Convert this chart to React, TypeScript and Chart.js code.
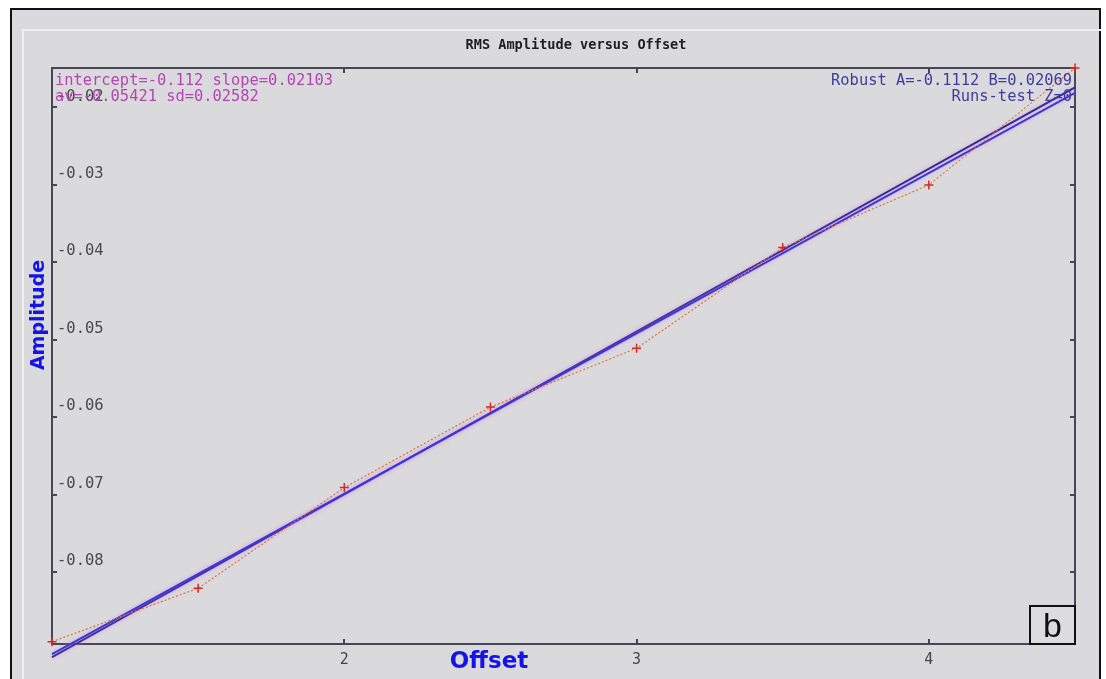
import React, { useEffect, useRef } from "react";
import { Chart, registerables } from "chart.js";

Chart.register(...registerables);

// ---- data ----
const offsets = [1, 1.5, 2, 2.5, 3, 3.5, 4, 4.5];
const amplitudes = [-0.089, -0.0821, -0.0691, -0.0587, -0.0511, -0.0381, -0.03, -0.0149];
const fitX = [1, 4.5];
const lsFitY = [-0.091, -0.0174];
const robustFitY = [-0.0906, -0.0181];
const xTicks = [2, 3, 4];
const yTicks = [-0.08, -0.07, -0.06, -0.05, -0.04, -0.03, -0.02];
const titleText = "RMS Amplitude versus Offset";
const statsLeft = ["intercept=-0.112 slope=0.02103", "av=-0.05421 sd=0.02582"];
const statsRight = ["Robust A=-0.1112 B=0.02069", "Runs-test Z=0"];
const xTitle = "Offset";
const yTitle = "Amplitude";
const panelLabel = "b";

const AXIS = "#46465a";
const MONO = "'DejaVu Sans Mono', 'Liberation Mono', monospace";

const haloPlugin = {
  id: "halo",
  beforeDatasetDraw(chart: any, args: any) {
    if (args.index === 0) return;
    const ctx = chart.ctx as CanvasRenderingContext2D;
    ctx.save();
    ctx.shadowColor = "rgba(215,120,240,0.6)";
    ctx.shadowBlur = 4;
  },
  afterDatasetDraw(chart: any, args: any) {
    if (args.index === 0) return;
    chart.ctx.restore();
  },
};

const overlayPlugin = {
  id: "overlay",
  afterDraw(chart: any) {
    const ctx = chart.ctx as CanvasRenderingContext2D;
    const xs = chart.scales.x;
    const ys = chart.scales.y;
    const { left, right, top, bottom } = chart.chartArea;
    ctx.save();
    // inward tick marks
    ctx.strokeStyle = AXIS;
    ctx.lineWidth = 2;
    const seg = (a: number, b: number, c: number, d: number) => {
      ctx.beginPath();
      ctx.moveTo(a, b);
      ctx.lineTo(c, d);
      ctx.stroke();
    };
    for (const v of yTicks) {
      const py = Math.round(ys.getPixelForValue(v));
      seg(left, py, left + 5, py);
      seg(right - 5, py, right, py);
    }
    for (const v of xTicks) {
      const px = Math.round(xs.getPixelForValue(v));
      seg(px, bottom, px, bottom - 5);
      seg(px, top, px, top + 5);
    }
    // title
    ctx.fillStyle = "#1e1e1e";
    ctx.font = `bold 13.6px ${MONO}`;
    ctx.textAlign = "center";
    ctx.textBaseline = "middle";
    ctx.fillText(titleText, 576, 45);
    // stats
    ctx.font = `15.4px ${MONO}`;
    ctx.textAlign = "left";
    ctx.fillStyle = "#b444b4";
    statsLeft.forEach((t, i) => ctx.fillText(t, left + 3, 81 + i * 16));
    ctx.textAlign = "right";
    ctx.fillStyle = "#3c3c9c";
    statsRight.forEach((t, i) => ctx.fillText(t, right - 3, 81 + i * 16));
    // axis titles
    ctx.fillStyle = "#1414e6";
    ctx.font = "bold 23px 'DejaVu Sans', Verdana, sans-serif";
    ctx.textAlign = "center";
    ctx.fillText(xTitle, 489, 662);
    ctx.save();
    ctx.translate(39, 315);
    ctx.rotate(-Math.PI / 2);
    ctx.font = "bold 19px 'DejaVu Sans', Verdana, sans-serif";
    ctx.fillText(yTitle, 0, 0);
    ctx.restore();
    // panel label box
    const bw = 45;
    const bh = 38;
    ctx.fillStyle = "#dcdcde";
    ctx.fillRect(right - bw, bottom - bh, bw, bh);
    ctx.strokeStyle = "#111";
    ctx.lineWidth = 2;
    ctx.strokeRect(right - bw, bottom - bh, bw, bh);
    ctx.fillStyle = "#111";
    ctx.font = "34px 'Liberation Sans', Arial, sans-serif";
    ctx.textAlign = "center";
    ctx.textBaseline = "alphabetic";
    ctx.fillText(panelLabel, right - bw / 2, bottom - 7);
    ctx.restore();
  },
};

export default function App() {
  const ref = useRef<HTMLCanvasElement | null>(null);

  useEffect(() => {
    if (!ref.current) return;
    const chart = new Chart(ref.current, {
      type: "scatter",
      data: {
        datasets: [
          {
            label: "RMS amplitude",
            data: offsets.map((x, i) => ({ x, y: amplitudes[i] })),
            showLine: true,
            borderColor: "#e2703c",
            borderWidth: 1.2,
            borderDash: [2, 2],
            pointStyle: "cross",
            pointRadius: 4.5,
            pointBorderColor: "#d8262a",
            pointBorderWidth: 1.5,
            clip: false,
            order: 0,
          } as any,
          {
            label: "Least squares",
            data: fitX.map((x, i) => ({ x, y: lsFitY[i] })),
            showLine: true,
            borderColor: "#2e2a8c",
            borderWidth: 2,
            pointRadius: 0,
            clip: false,
            order: 2,
          } as any,
          {
            label: "Robust",
            data: fitX.map((x, i) => ({ x, y: robustFitY[i] })),
            showLine: true,
            borderColor: "#3838d8",
            borderWidth: 2,
            pointRadius: 0,
            clip: false,
            order: 1,
          } as any,
        ],
      },
      options: {
        animation: false,
        responsive: false,
        maintainAspectRatio: false,
        layout: { padding: { left: 42, top: 68, right: 31, bottom: 3 } },
        plugins: {
          legend: { display: false },
          tooltip: { enabled: false },
          title: { display: false },
        },
        scales: {
          x: {
            type: "linear",
            position: "bottom",
            min: 1,
            max: 4.5,
            afterBuildTicks: (s: any) => {
              s.ticks = xTicks.map((v) => ({ value: v }));
            },
            ticks: {
              padding: 7,
              color: "#444",
              font: { family: MONO, size: 15 },
              callback: (v: any) => String(v),
            },
            grid: { display: false, drawTicks: false },
            border: { display: true, color: AXIS, width: 2 },
          },
          y: {
            type: "linear",
            position: "left",
            min: -0.0893,
            max: -0.0149,
            afterBuildTicks: (s: any) => {
              s.ticks = yTicks.map((v) => ({ value: v }));
            },
            ticks: {
              mirror: true,
              padding: 5,
              labelOffset: -11,
              color: "#4a4a4a",
              font: { family: MONO, size: 15.5 },
              callback: (v: any) => Number(v).toFixed(2),
            },
            grid: { display: false, drawTicks: false },
            border: { display: true, color: AXIS, width: 2 },
          },
          x2: {
            type: "linear",
            position: "top",
            min: 1,
            max: 4.5,
            ticks: { display: false },
            grid: { display: false, drawTicks: false },
            border: { display: true, color: AXIS, width: 2 },
          },
          y2: {
            type: "linear",
            position: "right",
            min: -0.0893,
            max: -0.0149,
            ticks: { display: false },
            grid: { display: false, drawTicks: false },
            border: { display: true, color: AXIS, width: 2 },
          },
        },
      } as any,
      plugins: [haloPlugin, overlayPlugin],
    });
    return () => chart.destroy();
  }, []);

  return (
    <div
      style={{
        position: "fixed",
        left: 0,
        top: 0,
        width: 1106,
        height: 679,
        background: "#ffffff",
        overflow: "hidden",
      }}
    >
      <div
        style={{
          position: "absolute",
          left: 10,
          top: 8,
          width: 1087,
          height: 700,
          border: "2px solid #111",
          borderBottom: "none",
          background: "#dadadc",
        }}
      />
      <div
        style={{
          position: "absolute",
          left: 22,
          top: 29,
          width: 1077,
          height: 700,
          borderTop: "2px solid #efeff0",
          borderLeft: "2px solid #efeff0",
        }}
      />
      <canvas
        ref={ref}
        width={1106}
        height={679}
        style={{ position: "absolute", left: 0, top: 0, width: 1106, height: 679 }}
      />
    </div>
  );
}
